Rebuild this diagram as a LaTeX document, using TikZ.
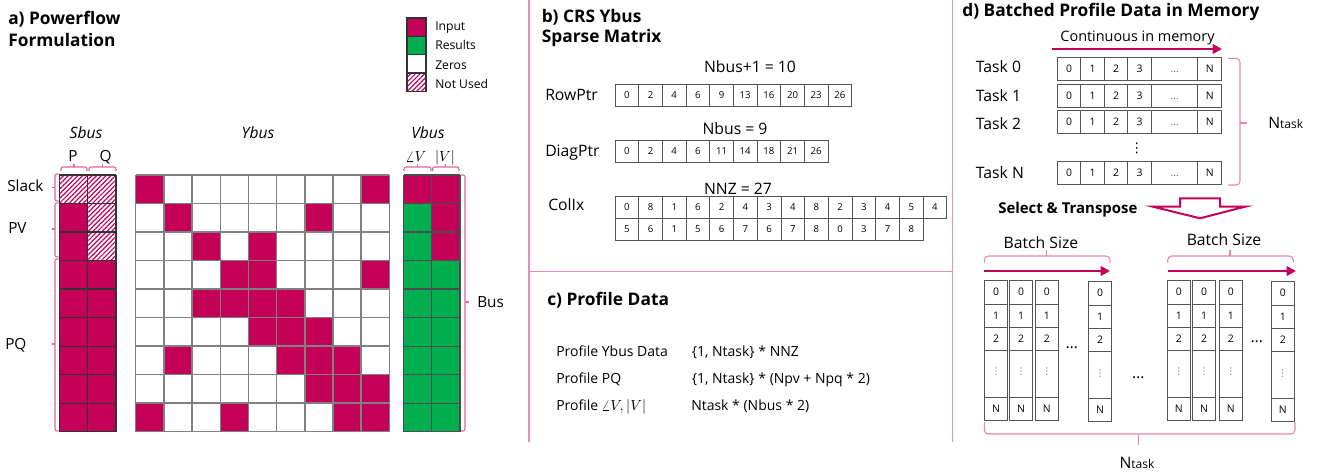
\documentclass[tikz,border=0pt]{standalone}
\usepackage{fontspec}
\setmainfont{Open Sans}
\newfontfamily\dejavu{DejaVu Sans}
\usetikzlibrary{patterns.meta,arrows.meta}
\definecolor{mag}{RGB}{196,0,88}
\definecolor{grn}{RGB}{0,174,80}
\definecolor{brk}{RGB}{226,100,155}
\definecolor{divc}{RGB}{225,140,180}
\definecolor{boxc}{RGB}{85,85,85}
\tikzset{
  ttl/.style={font=\bfseries\fontsize{13}{15}\selectfont, text height=9.3pt, text depth=0pt, inner sep=0pt},
  lbl/.style={font=\fontsize{11.5}{13}\selectfont, text height=8.2pt, text depth=0pt, inner sep=0pt},
  lblb/.style={font=\fontsize{11.8}{13}\selectfont, text height=8.4pt, text depth=0pt, inner sep=0pt},
  big/.style={font=\fontsize{11.8}{14}\selectfont, text height=8.4pt, text depth=0pt, inner sep=0pt},
  cim/.style={font=\fontsize{10.8}{13}\selectfont, text height=7.7pt, text depth=0pt, inner sep=0pt},
  sel/.style={font=\bfseries\fontsize{11.2}{14}\selectfont, text height=8pt, text depth=0pt, inner sep=0pt},
  num/.style={font=\fontsize{7.2}{8}\selectfont, text height=5.1pt, text depth=0pt, inner sep=0pt},
  numd/.style={font=\fontsize{7.8}{9}\selectfont, text height=5.6pt, text depth=0pt, inner sep=0pt},
  leg/.style={font=\fontsize{9.1}{10}\selectfont, text height=6.5pt, text depth=0pt, inner sep=0pt},
  prof/.style={font=\fontsize{10.5}{12}\selectfont, text height=7.5pt, text depth=0pt, inner sep=0pt},
  mth/.style={font=\itshape\fontsize{11.7}{13}\selectfont, text height=8.35pt, text depth=0pt, inner sep=0pt},
  vdt/.style={font=\dejavu\fontsize{#1}{#1}\selectfont, inner sep=0pt},
  ygrid/.style={draw=gray, line width=1.1pt},
  sgrid/.style={draw=black!80, line width=0.9pt},
  vgrid/.style={draw=black!70, line width=0.9pt},
  cell/.style={draw=boxc, line width=0.6pt},
  hatch/.style={pattern={Lines[angle=45,distance=2.5pt,line width=0.9pt]}, pattern color=mag},
  brc/.style={draw=brk, line width=0.8pt, rounded corners=1.5pt},
  brcd/.style={draw=brk!80, line width=0.8pt, rounded corners=3pt},
  divl/.style={draw=divc, line width=1pt},
  marr/.style={draw=mag, line width=1.9pt, -{Triangle[length=7pt,width=7pt]}},
}
\begin{document}
\begin{tikzpicture}[x=0.75pt,y=-0.75pt]
\useasboundingbox (0,0) rectangle (1327,475);
% ---------- dividers
\draw[divl] (529,0) -- (529,441.7);
\draw[divl] (952.7,0) -- (952.7,441.7);
\draw[divl] (529,271.7) -- (952.7,271.7);

% ================= a) =================
\node[ttl,anchor=west] (ta1) at (8,18.5) {a) Powerflow};
\node[ttl,anchor=west] (ta2) at (8,40) {Formulation};
% legend
\fill[mag] (407,18) rectangle (426,36.3);
\fill[grn] (407,36.3) rectangle (426,54.7);
\fill[white] (407,54.7) rectangle (426,73);
\fill[hatch] (407,73) rectangle (426,91.3);
\foreach \a/\b in {18/36.3,36.3/54.7,54.7/73,73/91.3} \draw[sgrid] (407,\a) rectangle (426,\b);
\node[leg,anchor=west] (lg1) at (435,26) {Input};
\node[leg,anchor=west] (lg2) at (435,45.5) {Results};
\node[leg,anchor=west] (lg3) at (435,65) {Zeros};
\node[leg,anchor=west] (lg4) at (435,84.5) {Not Used};

% headers
\node[mth] (hs) at (86,132.5) {Sbus};
\node[mth] (hy) at (258,132.5) {Ybus};
\node[mth] (hv) at (428,132.5) {Vbus};
\node[lbl] (hp) at (73,156) {P};
\node[lbl] (hq) at (105.5,156) {Q};
\node[mth,font=\fontsize{11}{13}\selectfont] (hang) at (416,156) {$\angle V$};
\node[mth,font=\fontsize{11}{13}\selectfont] (habs) at (445,156) {$|V|$};

% top brackets
\draw[brc] (61,171) -- (61,167) -- (87,167) -- (87,171); \draw[brc] (74,167) -- (74,163.5);
\draw[brc] (89,171) -- (89,167) -- (116,167) -- (116,171); \draw[brc] (102.5,167) -- (102.5,163.5);
\draw[brc] (404,171) -- (404,167) -- (431,167) -- (431,171); \draw[brc] (417.5,167) -- (417.5,163.5);
\draw[brc] (432.5,171) -- (432.5,167) -- (459,167) -- (459,171); \draw[brc] (445.7,167) -- (445.7,163.5);

% Sbus
\fill[mag] (59.3,203.52) rectangle (87.65,431.7);
\fill[mag] (87.65,260.56) rectangle (116,431.7);
\fill[white] (59.3,175) rectangle (87.65,203.52);
\fill[white] (87.65,175) rectangle (116,260.56);
\fill[hatch] (59.3,175) rectangle (87.65,203.52);
\fill[hatch] (87.65,175) rectangle (116,260.56);
\foreach \i in {0,...,9} \draw[sgrid] (59.3,{175+\i*28.52}) -- ++(56.7,0);
\foreach \i in {0,1,2} \draw[sgrid] ({59.3+\i*28.35},175) -- ++(0,256.7);

% Ybus
\foreach \r/\c in {0/0,0/8,1/1,1/6,2/2,2/4,3/3,3/4,3/8,4/2,4/3,4/4,4/5,5/4,5/5,5/6,6/1,6/5,6/6,6/7,7/6,7/7,7/8,8/0,8/3,8/7,8/8}
  \fill[mag] ({135.7+\c*28.18},{175+\r*28.52}) rectangle ++(28.18,28.52);
\foreach \i in {0,...,9} {
  \draw[ygrid] ({135.7+\i*28.18},175) -- ++(0,256.7);
  \draw[ygrid] (135.7,{175+\i*28.52}) -- ++(253.6,0);
}

% Vbus
\fill[mag] (403.7,175) rectangle (431.85,203.52);
\fill[grn] (403.7,203.52) rectangle (431.85,431.7);
\fill[mag] (431.85,175) rectangle (460,260.56);
\fill[grn] (431.85,260.56) rectangle (460,431.7);
\foreach \i in {0,...,9} \draw[vgrid] (403.7,{175+\i*28.52}) -- ++(56.3,0);
\foreach \i in {0,1,2} \draw[vgrid] ({403.7+\i*28.15},175) -- ++(0,256.7);

% left brackets
\draw[brc] (58.5,174) -- (55,174) -- (55,201) -- (58.5,201); \draw[brc] (55,187.5) -- (51.5,187.5);
\draw[brc] (58.5,203) -- (55,203) -- (55,257) -- (58.5,257); \draw[brc] (55,229) -- (51.5,229);
\draw[brc] (58.5,259) -- (55,259) -- (55,431) -- (58.5,431); \draw[brc] (55,344) -- (51.5,344);
\node[lbl,anchor=west] (lslack) at (7,186) {Slack};
\node[lbl,anchor=west] (lpv) at (8,228) {PV};
\node[lbl,anchor=west] (lpq) at (5,344) {PQ};
% right bracket
\draw[brc] (461,175) -- (465,175) -- (465,431) -- (461,431); \draw[brc] (465,302) -- (469,302);
\node[lbl,anchor=west] (lbus) at (477,302) {Bus};

% ================= b) =================
\node[ttl,anchor=west] (tb1) at (541.5,16.5) {b) CRS Ybus};
\node[ttl,anchor=west] (tb2) at (541.5,36) {Sparse Matrix};
\node[lblb] (nb1) at (750,67) {Nbus+1 = 10};
\node[lblb,anchor=west] (lrow) at (545,95) {RowPtr};
\foreach \v [count=\i from 0] in {0,2,4,6,9,13,16,20,23,26} {
  \draw[cell] ({615+\i*23.67},84) rectangle ++(23.67,22);
  \node[num] (rp\i) at ({615+\i*23.67+11.835},95) {\v};
}
\node[lblb] (nb2) at (735,129) {Nbus = 9};
\node[lblb,anchor=west] (ldiag) at (545,151) {DiagPtr};
\foreach \v [count=\i from 0] in {0,2,4,6,11,14,18,21,26} {
  \draw[cell] ({615+\i*23.67},140) rectangle ++(23.67,22);
  \node[num] (dp\i) at ({615+\i*23.67+11.835},151) {\v};
}
\node[lblb] (nb3) at (738,189) {NNZ = 27};
\node[lblb,anchor=west] (lcol) at (548,205) {ColIx};
\foreach \v [count=\i from 0] in {0,8,1,6,2,4,3,4,8,2,3,4,5,4} {
  \draw[cell] ({615+\i*23.7},196) rectangle ++(23.7,22);
  \node[num] (ca\i) at ({615+\i*23.7+11.85},207) {\v};
}
\foreach \v [count=\i from 0] in {5,6,1,5,6,7,6,7,8,0,3,7,8} {
  \draw[cell] ({615+\i*23.7},218) rectangle ++(23.7,22);
  \node[num] (cb\i) at ({615+\i*23.7+11.85},229) {\v};
}

% ================= c) =================
\node[ttl,anchor=west] (tc) at (547,299) {c) Profile Data};
\node[prof,anchor=west] (pc1) at (556,351.5) {Profile Ybus Data};
\node[prof,anchor=west] (pc2) at (556,378.5) {Profile PQ};
\node[prof,anchor=west] (pc3) at (556,405) {Profile $\angle V, |V|$};
\node[prof,anchor=west] (pv1) at (691.5,351.5) {\{1, Ntask\} * NNZ};
\node[prof,anchor=west] (pv2) at (691.5,378.5) {\{1, Ntask\} * (Npv + Npq * 2)};
\node[prof,anchor=west] (pv3) at (691,405) {Ntask * (Nbus * 2)};

% ================= d) =================
\node[ttl,anchor=west] (td) at (962,10.5) {d) Batched Profile Data in Memory};
\node[cim] (cim) at (1137.5,36) {Continuous in memory};
\coordinate (ca) at (1052,49);
\coordinate (cb) at (1222,49);
\draw[marr] (ca) -- (cb);
\foreach \t/\y/\ly in {0/57.5/66.7,1/84/96,2/110/123.5,N/161/172.5} {
  \node[big,anchor=west] (task\t) at (975.7,\ly) {Task \t};
  \draw[cell] (1057.3,\y) rectangle (1221.7,\y+23.3);
  \foreach \xx in {1080.7,1104.3,1127.7,1151.7,1197.7} \draw[cell] (\xx,\y) -- (\xx,\y+23.3);
  \foreach \v/\cx in {0/1069,1/1092.5,2/1116,3/1139.7,N/1209.7}
    \node[numd] at (\cx,\y+11.65) {\v};
  \node[numd,text=black!60] at (1174.7,\y+11.65) {\ldots};
}
\node[vdt=10] (vd1) at (1136.7,148) {⋮};
% right brace
\draw[brcd] (1228,58.3) -- (1240,58.3) -- (1240,185) -- (1228,185);
\draw[brcd] (1240,123) -- (1247,123);
\node[big,anchor=west] (nt1) at (1268,123) {N{\fontsize{9}{11}\selectfont task}};

% select & transpose
\node[sel,anchor=west] (st) at (998,208.3) {Select \& Transpose};
\draw[draw=mag, line width=1.5pt, fill=white, line join=miter]
  (1180,198.3) -- (1220,198.3) -- (1220,206.7) -- (1245,206.7) -- (1200,218.3) -- (1153,206.7) -- (1180,206.7) -- cycle;

% batch size braces
\node[big] (bs1) at (1041,243.3) {Batch Size};
\node[big] (bs2) at (1224,240) {Batch Size};
\draw[brcd] (984.3,262.7) -- (984.3,256) -- (1110,256) -- (1110,262.7);
\draw[brcd] (1046.7,256) -- (1046.7,250);
\draw[brcd] (1167.7,262.7) -- (1167.7,256) -- (1293.3,256) -- (1293.3,262.7);
\draw[brcd] (1230,256) -- (1230,250);
\coordinate (la1) at (984,271); \coordinate (la2) at (1110,271);
\coordinate (ra1) at (1168,271); \coordinate (ra2) at (1296,271);
\draw[marr] (la1) -- (la2);
\draw[marr] (ra1) -- (ra2);

% transposed columns
\foreach \xx/\dy in {984.3/0,1009.3/0,1035/0,1088.3/-1.2,1167/0,1192.3/0,1219/0,1271/-1.2} {
  \begin{scope}[yshift=\dy*0.75pt]
  \draw[cell] (\xx,280) rectangle (\xx+23.5,420);
  \foreach \yy in {304,327,350,397} \draw[cell] (\xx,\yy) -- (\xx+23.5,\yy);
  \foreach \v/\cy in {0/292,1/315.5,2/338.5,N/408.5}
    \node[numd] at (\xx+11.75,\cy) {\v};
  \node[vdt=7, text=black!60] at (\xx+11.75,372) {⋮};
  \end{scope}
}
\node[big] (el1) at (1071.7,342.7) {\ldots};
\node[big] (el2) at (1138.3,372.7) {\ldots};
\node[big] (el3) at (1256.7,336.7) {\ldots};

% bottom brace
\draw[brcd] (984.3,422) -- (984.3,434) -- (1295,434) -- (1295,422);
\draw[brcd] (1138.3,434) -- (1138.3,445);
\node[big] (nt2) at (1137,462.7) {N{\fontsize{9}{11}\selectfont task}};
\end{tikzpicture}
\end{document}
